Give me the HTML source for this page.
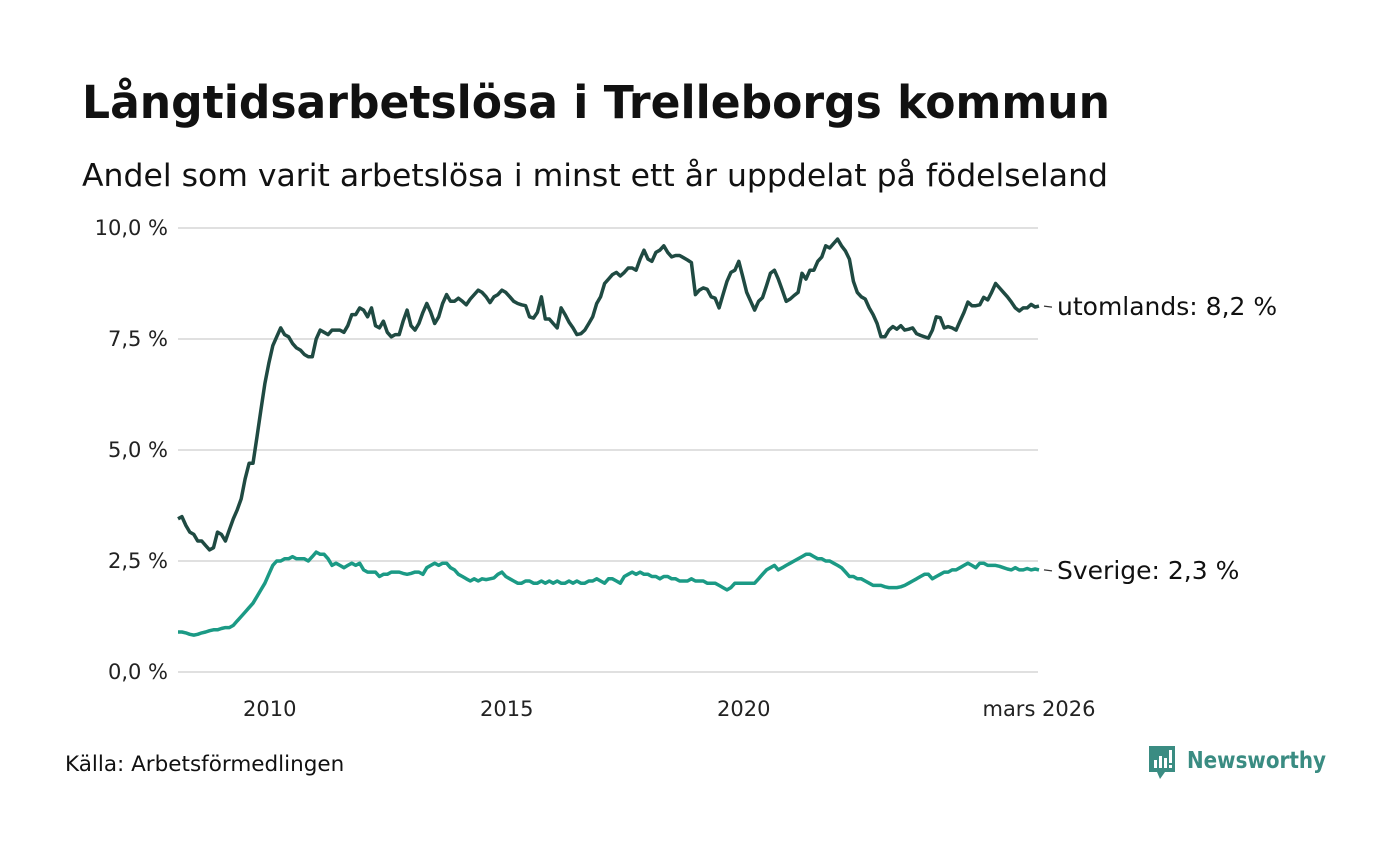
<!DOCTYPE html>
<html><head><meta charset="utf-8"><style>
body{margin:0;background:#fff;font-family:"Liberation Sans","DejaVu Sans",sans-serif;}
svg text{font-family:"DejaVu Sans","Liberation Sans",sans-serif;}
</style></head><body>
<svg width="1400" height="840" viewBox="0 0 1400 840" xmlns="http://www.w3.org/2000/svg">
<rect width="1400" height="840" fill="#fff"/>
<text x="82" y="118" font-size="45" font-weight="bold" fill="#111" textLength="1028" lengthAdjust="spacingAndGlyphs">Långtidsarbetslösa i Trelleborgs kommun</text>
<text x="82" y="186" font-size="31" fill="#111" textLength="1026" lengthAdjust="spacingAndGlyphs">Andel som varit arbetslösa i minst ett år uppdelat på födelseland</text>
<g id="grid"></g><g id="xaxis"></g><g id="lines"></g>
<text x="65" y="771" font-size="21.5" fill="#111">Källa: Arbetsförmedlingen</text>
<g>
<path d="M1149 746 h26 v26 h-10 l-5 7 l-3 -7 h-8 z" fill="#3a8c82"/>
<rect x="1154" y="760" width="3" height="8" fill="#fff"/><rect x="1159" y="756" width="3" height="12" fill="#fff"/><rect x="1164" y="758" width="3" height="10" fill="#fff"/><rect x="1169" y="750" width="3" height="13" fill="#fff"/><rect x="1169" y="765" width="3" height="3" fill="#fff"/>
<text x="1187" y="768" font-size="23" font-weight="bold" fill="#3a8c82" textLength="139" lengthAdjust="spacingAndGlyphs">Newsworthy</text>
</g>
</svg>
<script>
const yTicks=[0,2.5,5,7.5,10];
const yTickLabels=["0,0 %","2,5 %","5,0 %","7,5 %","10,0 %"];
const xTickYears=[2010,2015,2020];
const xTickLabels=["2010","2015","2020","mars 2026"];
const startYear=2008,startMonth=0;
const utomlands=[3.45,3.5,3.3,3.15,3.1,2.95,2.95,2.85,2.75,2.8,3.15,3.1,
2.95,3.2,3.45,3.65,3.9,4.35,4.7,4.7,5.3,5.9,6.5,6.95,
7.35,7.55,7.75,7.6,7.55,7.4,7.3,7.25,7.15,7.1,7.1,7.5,
7.7,7.65,7.6,7.7,7.7,7.7,7.65,7.8,8.05,8.05,8.2,8.15,
8.0,8.2,7.8,7.75,7.9,7.65,7.55,7.6,7.6,7.9,8.15,7.8,
7.7,7.85,8.1,8.3,8.1,7.85,8.0,8.3,8.5,8.35,8.35,8.42,
8.35,8.27,8.4,8.5,8.6,8.55,8.45,8.32,8.45,8.5,8.6,8.55,
8.45,8.35,8.3,8.27,8.25,8.0,7.97,8.1,8.45,7.95,7.95,7.85,
7.75,8.2,8.05,7.88,7.75,7.6,7.62,7.7,7.85,8.0,8.3,8.45,
8.75,8.85,8.95,9.0,8.92,9.0,9.1,9.1,9.05,9.3,9.5,9.3,
9.25,9.45,9.5,9.6,9.45,9.35,9.38,9.38,9.33,9.28,9.22,8.5,
8.6,8.65,8.62,8.45,8.42,8.2,8.5,8.8,9.0,9.05,9.25,8.9,
8.55,8.35,8.15,8.35,8.43,8.7,8.98,9.05,8.85,8.6,8.35,8.4,
8.48,8.55,8.98,8.85,9.05,9.05,9.25,9.35,9.6,9.55,9.65,9.75,
9.6,9.48,9.3,8.8,8.55,8.45,8.4,8.2,8.05,7.85,7.55,7.55,
7.7,7.78,7.72,7.8,7.7,7.72,7.75,7.62,7.58,7.55,7.52,7.7,
8.0,7.98,7.75,7.78,7.75,7.7,7.9,8.1,8.33,8.25,8.25,8.27,
8.44,8.38,8.55,8.75,8.65,8.55,8.45,8.33,8.2,8.13,8.2,8.2,
8.28,8.22,8.24];
const sverige=[0.9,0.9,0.88,0.85,0.83,0.85,0.88,0.9,0.93,0.95,0.95,0.98,
1.0,1.0,1.05,1.15,1.25,1.35,1.45,1.55,1.7,1.85,2.0,2.2,
2.4,2.5,2.5,2.55,2.55,2.6,2.55,2.55,2.55,2.5,2.6,2.7,
2.65,2.65,2.55,2.4,2.45,2.4,2.35,2.4,2.45,2.4,2.45,2.3,
2.25,2.25,2.25,2.15,2.2,2.2,2.25,2.25,2.25,2.22,2.2,2.22,
2.25,2.25,2.2,2.35,2.4,2.45,2.4,2.45,2.45,2.35,2.3,2.2,
2.15,2.1,2.05,2.1,2.05,2.1,2.08,2.1,2.12,2.2,2.25,2.15,
2.1,2.05,2.0,2.0,2.05,2.05,2.0,2.0,2.05,2.0,2.05,2.0,
2.05,2.0,2.0,2.05,2.0,2.05,2.0,2.0,2.05,2.05,2.1,2.05,
2.0,2.1,2.1,2.05,2.0,2.15,2.2,2.25,2.2,2.25,2.2,2.2,
2.15,2.15,2.1,2.15,2.15,2.1,2.1,2.05,2.05,2.05,2.1,2.05,
2.05,2.05,2.0,2.0,2.0,1.95,1.9,1.85,1.9,2.0,2.0,2.0,
2.0,2.0,2.0,2.1,2.2,2.3,2.35,2.4,2.3,2.35,2.4,2.45,
2.5,2.55,2.6,2.65,2.65,2.6,2.55,2.55,2.5,2.5,2.45,2.4,
2.35,2.25,2.15,2.15,2.1,2.1,2.05,2.0,1.95,1.95,1.95,1.92,
1.9,1.9,1.9,1.92,1.95,2.0,2.05,2.1,2.15,2.2,2.2,2.1,
2.15,2.2,2.25,2.25,2.3,2.3,2.35,2.4,2.45,2.4,2.35,2.45,
2.45,2.4,2.4,2.4,2.38,2.35,2.32,2.3,2.35,2.3,2.3,2.33,
2.3,2.32,2.3];
const NS="http://www.w3.org/2000/svg";
const X0=178,X1=1039,Y0=672,Y1=228;
const nMonths=utomlands.length-1;
function xScale(monthIndex){return X0+(X1-X0)*monthIndex/nMonths;}
function yScale(v){return Y0-(Y0-Y1)*v/10;}
function mk(tag,attrs,parent){const e=document.createElementNS(NS,tag);for(const k in attrs)e.setAttribute(k,attrs[k]);parent.appendChild(e);return e;}
const grid=document.getElementById('grid');
yTicks.forEach((t,i)=>{
 const l=mk('line',{x1:X0,x2:1038,y1:yScale(t),y2:yScale(t),stroke:'#e0e0e0','stroke-width':2},grid);
 
 
 const tx=mk('text',{x:168,y:yScale(t)+7,'font-size':21,'text-anchor':'end',fill:'#222'},grid);
 tx.textContent=yTickLabels[i];
 
 
});
const xa=document.getElementById('xaxis');
xTickYears.forEach((yr,i)=>{
 const t=mk('text',{x:xScale((yr-startYear)*12-startMonth)-3,y:716,'font-size':21,'text-anchor':'middle',fill:'#222'},xa);
 t.textContent=xTickLabels[i];
 
 
});
const tl=mk('text',{x:xScale(nMonths),y:716,'font-size':21,'text-anchor':'middle',fill:'#222'},xa);
tl.textContent=xTickLabels[3];


const lines=document.getElementById('lines');
function drawSeries(vals,color,name,label){
 const d=vals.map((v,i)=>(i?'L':'M')+xScale(i).toFixed(1)+' '+yScale(v).toFixed(1)).join(' ');
 const p=mk('path',{d:d,fill:'none',stroke:color,'stroke-width':3.5,'stroke-linejoin':'round'},lines);
 
 
 const last=vals[vals.length-1];const ly=yScale(last);
 const dash=mk('line',{x1:1044,x2:1052,y1:ly,y2:ly+1,stroke:'#333','stroke-width':1.2},lines);
 
 
 const t=mk('text',{x:1057,y:ly+9,'font-size':25,fill:'#111'},lines);
 t.textContent=label+': '+last.toFixed(1).replace('.',',')+' %';
 
 
}
drawSeries(utomlands,'#1f4a42','utomlands','utomlands');
drawSeries(sverige,'#1b9a85','sverige','Sverige');
</script>
</body></html>
